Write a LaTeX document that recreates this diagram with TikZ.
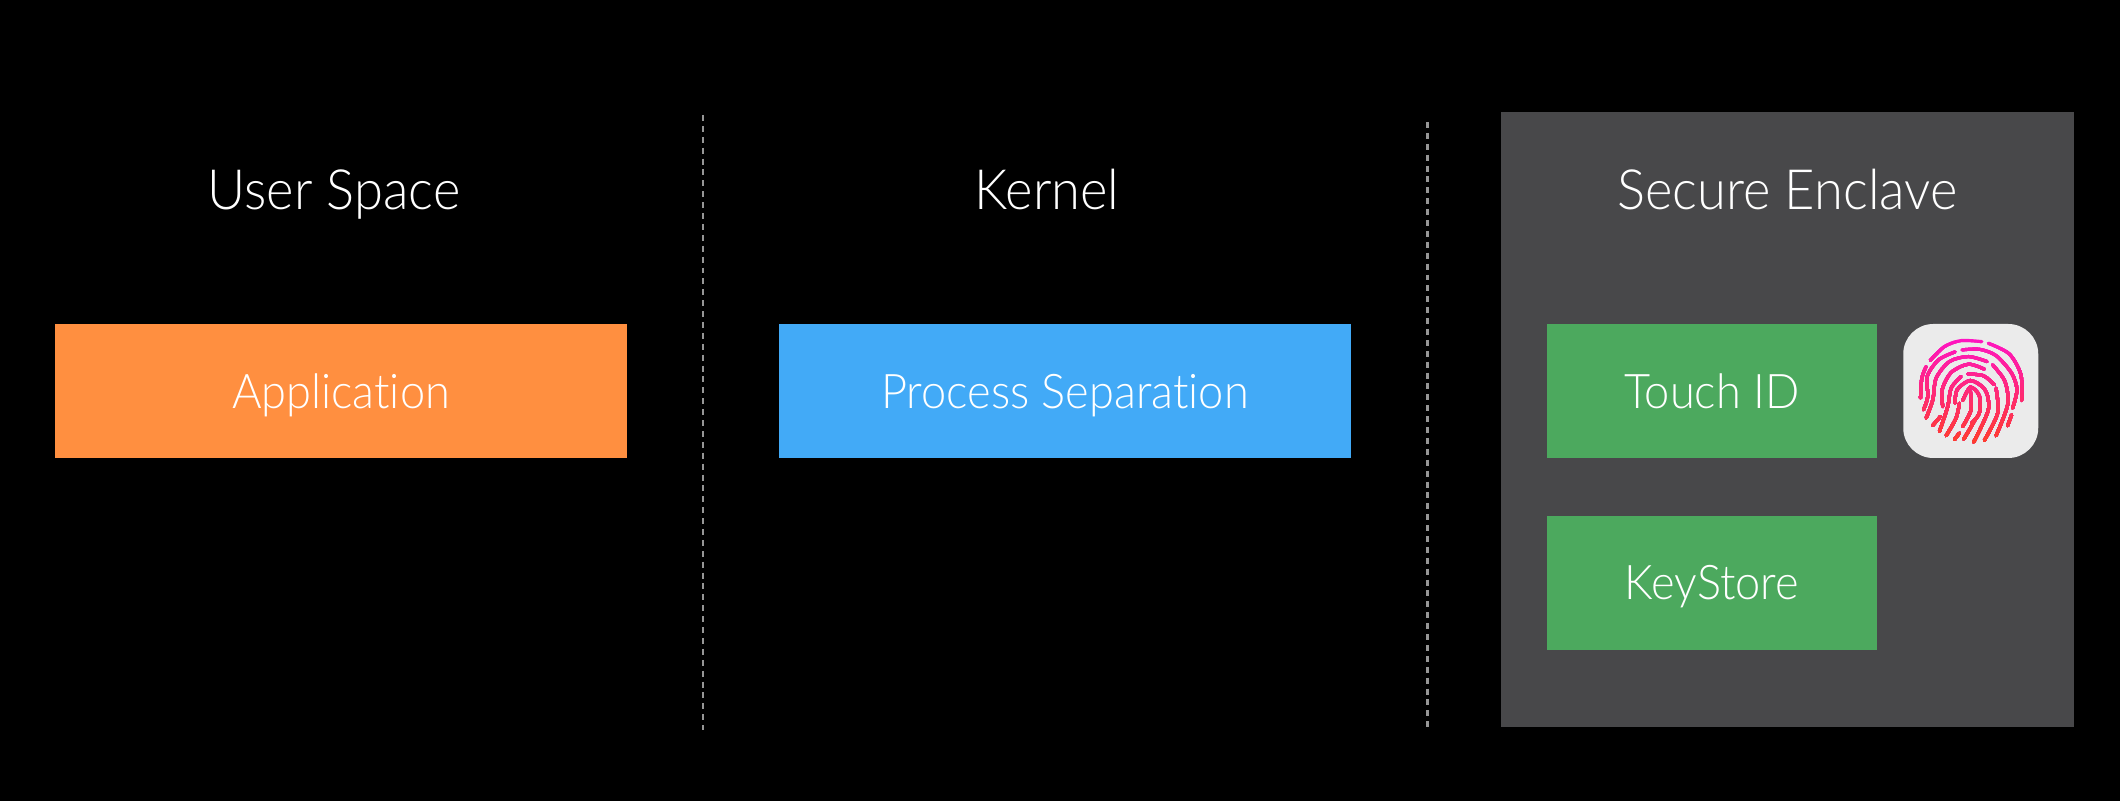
\documentclass[tikz,border=0pt]{standalone}
\usepackage{fontspec}
\setmainfont{Lato Light}[Ligatures=NoCommon, FakeStretch=0.945]
\usetikzlibrary{positioning}

\definecolor{appcolor}{RGB}{255,143,64}
\definecolor{kernelcolor}{RGB}{66,170,247}
\definecolor{enclavecolor}{RGB}{72,72,74}
\definecolor{greencolor}{RGB}{76,169,94}
\definecolor{iconcolor}{RGB}{235,235,235}
\definecolor{sepcolor}{RGB}{150,150,150}
\definecolor{fptop}{RGB}{255,20,195}
\definecolor{fpbottom}{RGB}{255,62,45}

\tikzset{
    region/.style={text=white, inner sep=0pt, text height=11.6pt, text depth=0pt, font=\fontsize{15.8}{16}\selectfont},
    block/.style={text=white, inner sep=0pt, minimum height=1.34cm, text height=9.7pt, text depth=0pt, font=\fontsize{13.6}{14}\selectfont},
    separator/.style={sepcolor, line width=.8pt, dash pattern=on 1.7pt off 1.4pt},
    ridge/.style={line width=.9pt, line cap=round}
}

% ridges of the fingerprint, in 1/3 pixel units
\newcommand{\fpridges}{
    \draw[ridge] plot[smooth] coordinates {(147,152) (190,110) (240,92) (302,95)};
    \draw[ridge] plot[smooth] coordinates {(322,100) (385,132) (420,195) (422,272)};
    \draw[ridge] plot[smooth] coordinates {(135,170) (122,205) (118,265)};
    \draw[ridge] plot[smooth] coordinates {(243,120) (295,118) (345,137) (392,190) (408,240) (395,295)};
    \draw[ridge] plot[smooth] coordinates {(222,126) (172,150) (138,200) (140,260) (127,300)};
    \draw[ridge] plot[smooth] coordinates {(318,155) (262,140) (205,155) (165,205) (155,270) (135,325)};
    \draw[ridge] plot[smooth] coordinates {(335,165) (372,215) (380,285) (345,378)};
    \draw[ridge] plot[smooth] coordinates {(310,178) (262,163) (210,188) (183,240) (185,290)};
    \draw[ridge] plot[smooth] coordinates {(260,192) (308,198) (340,225)};
    \draw[ridge] plot[smooth] coordinates {(345,235) (350,310) (310,392)};
    \draw[ridge] plot[smooth] coordinates {(240,200) (210,235) (200,290) (175,365)};
    \draw[ridge] plot[smooth] coordinates {(222,280) (228,240) (268,212) (312,240) (322,300) (278,397)};
    \draw[ridge] plot[smooth] coordinates {(245,272) (268,232) (295,258) (295,310) (272,340)};
    \draw[ridge] plot[smooth] coordinates {(268,245) (270,300) (245,350)};
    \draw[ridge] plot[smooth] coordinates {(235,280) (225,325) (195,378)};
    \draw[ridge] plot[smooth] coordinates {(285,325) (262,365) (248,388)};
    \draw[ridge] plot coordinates {(178,320) (155,347)};
    \draw[ridge] plot coordinates {(392,315) (380,348)};
    \draw[ridge] plot coordinates {(235,370) (220,390)};
}

\begin{document}
\begin{tikzpicture}
    \useasboundingbox (0,0) rectangle (21.2,8);
    \fill[black] (-.1,-.1) rectangle (21.3,8.1);

    % enclave panel
    \node[fill=enclavecolor, minimum width=5.73cm, minimum height=6.15cm, inner sep=0pt] (enclave) at (17.875,3.805) {};

    % main boxes
    \node[block, fill=appcolor, minimum width=5.72cm] (app) at (3.41,4.09) {Application};
    \node[block, fill=kernelcolor, minimum width=5.72cm, right=1.505cm of app] (proc) {Process Separation};
    \node[block, fill=greencolor, minimum width=3.30cm, right=1.945cm of proc] (touch) {Touch ID};
    \node[block, fill=greencolor, minimum width=3.30cm, below=.565cm of touch] (keystore) {KeyStore};

    % region titles
    \node[region, above=1.13cm of app, xshift=-.07cm] (user) {User Space};
    \node[region, above=1.13cm of proc, xshift=-.18cm] (kernel) {Kernel};
    \node[region] (secure) at (enclave.center |- user) {Secure Enclave};

    % dashed separators
    \coordinate (sepAtop) at (7.03,6.85);
    \coordinate (sepAbot) at (7.03,.70);
    \coordinate (sepBtop) at (14.275,6.78);
    \coordinate (sepBbot) at (14.275,.70);
    \draw[separator] (sepAtop) -- (sepAbot);
    \draw[separator] (sepBtop) -- (sepBbot);

    % touch id icon
    \node[fill=iconcolor, rounded corners=.3cm, minimum width=1.35cm, minimum height=1.34cm, inner sep=0pt, right=.25cm of touch] (icon) {};
    \begin{scope}[shift={(icon.center)}, xshift=-.895cm, yshift=.81cm, x=.0033333cm, y=-.0033333cm]
        \foreach \i in {0,...,31} {
            \pgfmathsetmacro{\bandy}{82+10*\i}
            \pgfmathsetmacro{\bandmix}{100*\i/31}
            \colorlet{fpband}{fpbottom!\bandmix!fptop}
            \begin{scope}[fpband]
                \clip (0,\bandy) rectangle (540,480);
                \fpridges
            \end{scope}
        }
    \end{scope}
\end{tikzpicture}
\end{document}
